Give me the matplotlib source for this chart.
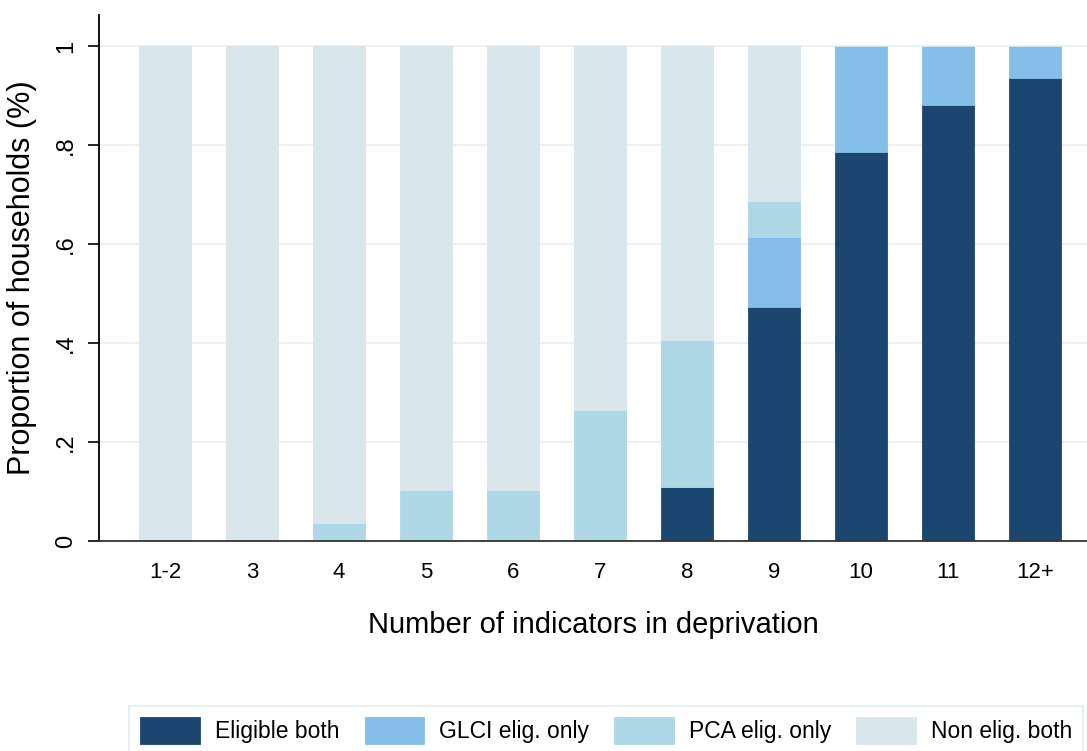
import numpy as np
import matplotlib
matplotlib.use("Agg")
import matplotlib.pyplot as plt

plt.rcParams['font.family'] = ['Liberation Sans', 'DejaVu Sans']

# Доли домохозяйств по числу индикаторов депривации
categories = ['1-2', '3', '4', '5', '6', '7', '8', '9', '10', '11', '12+']
eligible_both = [0, 0, 0, 0, 0, 0, 0.109, 0.472, 0.787, 0.881, 0.936]
glci_only = [0, 0, 0, 0, 0, 0, 0, 0.142, 0.213, 0.119, 0.064]
pca_only = [0, 0, 0.037, 0.103, 0.103, 0.264, 0.297, 0.074, 0, 0, 0]
non_both = [1, 1, 0.963, 0.897, 0.897, 0.736, 0.594, 0.312, 0, 0, 0]

series = [
    ('Eligible both', eligible_both, '#1b466f'),
    ('GLCI elig. only', glci_only, '#84bee9'),
    ('PCA elig. only', pca_only, '#aed8e5'),
    ('Non elig. both', non_both, '#d9e6ec'),
]

fig = plt.figure(figsize=(10.87, 7.51), dpi=100)
ax = fig.add_axes([99 / 1087, 210 / 751, 988 / 1087, 526 / 751])

x = np.arange(len(categories))
bottom = np.zeros(len(categories))
for name, vals, col in series:
    vals = np.array(vals, dtype=float)
    ax.bar(x, vals, bottom=bottom, width=0.6, color=col, label=name,
           edgecolor=col, linewidth=0.6, zorder=2)
    bottom = bottom + vals

ax.set_xlim(-0.76, 10.6)
ax.set_ylim(0, 1.063)
ax.set_yticks([0, 0.2, 0.4, 0.6, 0.8, 1.0])
ax.set_yticklabels(['0', '.2', '.4', '.6', '.8', '1'], rotation=90, va='center')
ax.set_xticks(x)
ax.set_xticklabels(categories)
ax.tick_params(axis='y', length=8, width=1.2, labelsize=17, pad=8)
ax.tick_params(axis='x', length=0, labelsize=16, pad=15)
ax.grid(axis='y', color='#eaf2f3', linewidth=1.5, zorder=0)
ax.set_axisbelow(True)

for s in ['top', 'right']:
    ax.spines[s].set_visible(False)
ax.spines['left'].set_linewidth(1.3)
ax.spines['bottom'].set_linewidth(1.3)
ax.spines['bottom'].set_color('#333333')

ax.set_xlabel('Number of indicators in deprivation', fontsize=21, labelpad=20)
ax.set_ylabel('Proportion of households (%)', fontsize=22, labelpad=13)

leg = fig.legend(loc='upper left', bbox_to_anchor=(129 / 1087, 1 - 706 / 751),
                 ncol=4, fontsize=16.5, frameon=True, fancybox=False,
                 handlelength=2.6, handleheight=1.4, handletextpad=0.65,
                 columnspacing=1.1, borderpad=0.5, borderaxespad=0)
leg.get_frame().set_edgecolor('#dde8ec')
leg.get_frame().set_linewidth(1.2)

fig.savefig('out.png', dpi=100)
